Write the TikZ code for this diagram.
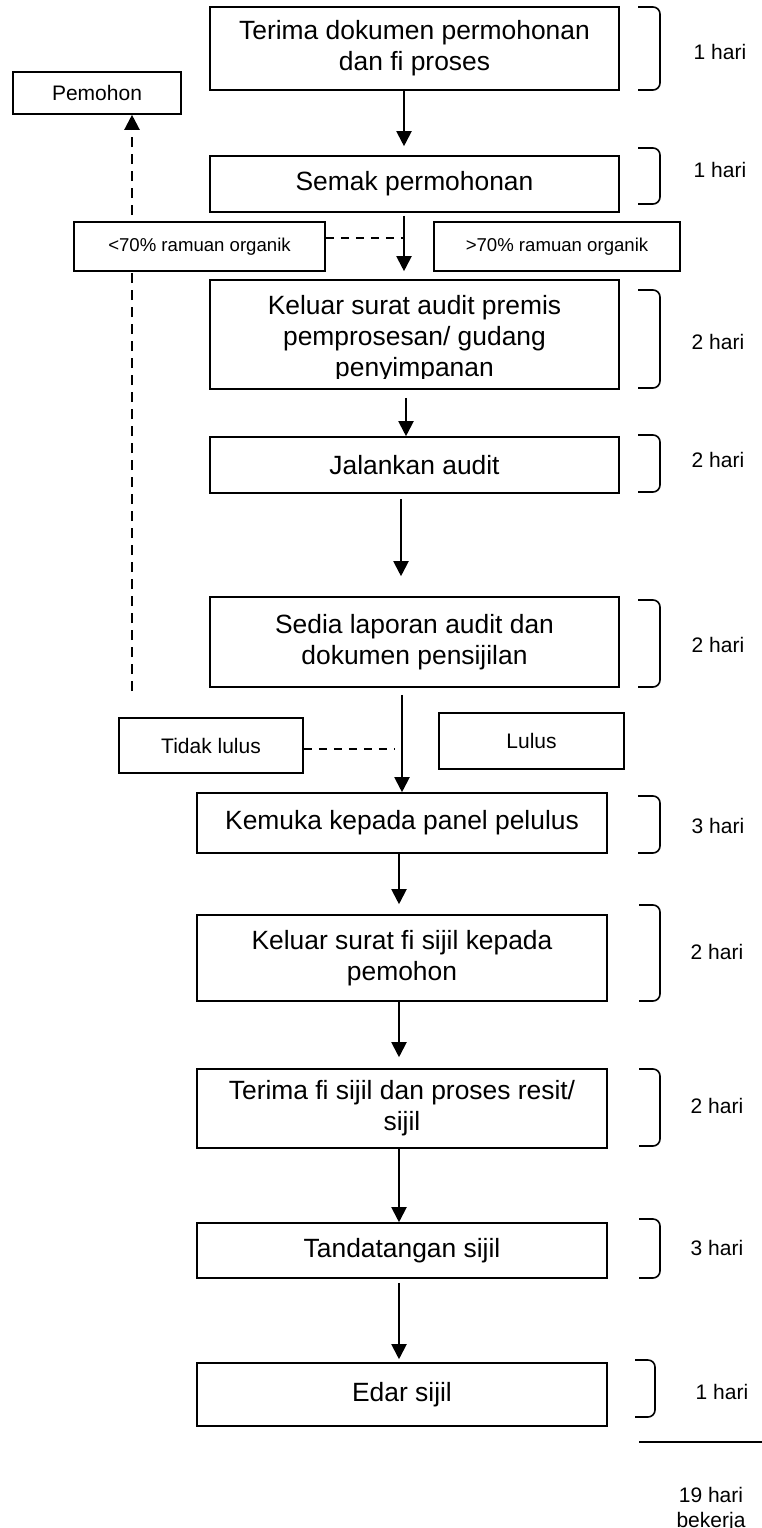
\documentclass[tikz,border=0pt]{standalone}
\usepackage{fontspec}
\setmainfont{Liberation Sans}
\usetikzlibrary{arrows.meta}

\begin{document}
\begin{tikzpicture}[
    x=1pt, y=-1pt,
    stepbox/.style={rectangle, draw=black, fill=white, line width=1.6pt, align=center, inner sep=0pt, minimum width=409pt, font=\fontsize{26.4}{31}\selectfont},
    sidebox/.style={rectangle, draw=black, fill=white, line width=1.6pt, align=center, inner sep=0pt, font=\fontsize{21}{25}\selectfont},
    pctbox/.style={sidebox, minimum height=49pt, font=\fontsize{18.6}{22}\selectfont},
    days/.style={inner sep=0pt, align=center, font=\fontsize{21}{25}\selectfont},
    bracket/.style={line width=1.6pt, rounded corners=7pt},
    arrow/.style={-{Triangle[width=15pt, length=15pt]}, line width=2pt},
    backdash/.style={line width=2.2pt, dash pattern=on 10pt off 7pt},
    faildash/.style={line width=1.5pt, dash pattern=on 8pt off 7pt}
]
    \useasboundingbox (0,0) rectangle (762,1528);

    % main steps
    \node [stepbox, minimum height=83pt] (t1) at (414.5,48.5) {Terima dokumen permohonan\\dan fi proses};
    \node [stepbox, minimum height=56pt] (t2) at (414.5,184) {Semak permohonan};
    \node [stepbox, minimum height=109pt, path picture={
        \clip ([yshift=11pt]path picture bounding box.south west) rectangle (path picture bounding box.north east);
        \node [align=center, inner sep=0pt, font=\fontsize{26.4}{31}\selectfont] (t3txt) at ([yshift=-4.5pt]path picture bounding box.center) {Keluar surat audit premis\\pemprosesan/ gudang\\penyimpanan};
    }] (t3) at (414.5,334.5) {};
    \node [stepbox, minimum height=56pt] (t4) at (414.5,465) {Jalankan audit};
    \node [stepbox, minimum height=90pt] (t5) at (414.5,642) {Sedia laporan audit dan\\dokumen pensijilan};
    \node [stepbox, minimum width=410pt, minimum height=60pt] (t6) at (402,823) {Kemuka kepada panel pelulus};
    \node [stepbox, minimum width=410pt, minimum height=86pt] (t7) at (402,958) {Keluar surat fi sijil kepada\\pemohon};
    \node [stepbox, minimum width=410pt, minimum height=79pt] (t8) at (402,1108.5) {Terima fi sijil dan proses resit/\\sijil};
    \node [stepbox, minimum width=410pt, minimum height=55pt] (t9) at (402,1250.5) {Tandatangan sijil};
    \node [stepbox, minimum width=410pt, minimum height=63pt] (t10) at (402,1394.5) {Edar sijil};

    % side boxes
    \node [sidebox, minimum width=168pt, minimum height=42pt] (pem) at (97,93) {Pemohon};
    \coordinate (ret) at (132,691);
    \draw [arrow, backdash] (ret) -- (ret |- pem.south);
    \node [pctbox, minimum width=251pt] (lt70) at (199.5,246.5) {<70\% ramuan organik};
    \node [pctbox, minimum width=246pt] (gt70) at (557,246.5) {>70\% ramuan organik};
    \node [sidebox, minimum width=184pt, minimum height=55pt] (tl) at (211,745.5) {Tidak lulus};
    \node [sidebox, minimum width=185pt, minimum height=56pt] (ls) at (531.5,741) {Lulus};

    % flow
    \coordinate (a2) at ([xshift=-10.5pt]t2.south);
    \draw [arrow, shorten >=9pt] ([xshift=-10.5pt]t1.south) -- ([xshift=-10.5pt]t2.north);
    \draw [arrow, shorten <=3pt, shorten >=8pt] (a2) -- (a2 |- t3.north);
    \draw [arrow, shorten <=8pt] ([xshift=-8.5pt]t3.south) -- ([xshift=-8.5pt]t4.north);
    \draw [arrow, shorten <=5pt, shorten >=20pt] ([xshift=-13.5pt]t4.south) -- ([xshift=-13.5pt]t5.north);
    \draw [arrow, shorten <=7pt] (t5.south -| t6.north) -- (t6.north);
    \draw [arrow, shorten >=10pt] ([xshift=-3pt]t6.south) -- ([xshift=-3pt]t7.north);
    \draw [arrow, shorten >=11pt] ([xshift=-3pt]t7.south) -- ([xshift=-3pt]t8.north);
    \draw [arrow] ([xshift=-3pt]t8.south) -- ([xshift=-3pt]t9.north);
    \draw [arrow, shorten <=4pt, shorten >=3pt] ([xshift=-3pt]t9.south) -- ([xshift=-3pt]t10.north);

    \coordinate (ltr) at ([yshift=8.5pt]lt70.east);
    \draw [faildash] (ltr) -- (ltr -| a2);
    \coordinate (tlr) at ([yshift=-3.5pt]tl.east);
    \draw [faildash, shorten >=8pt] (tlr) -- (tlr -| t6.north);

    % durations
    \draw [bracket] (638,7) -- (660,7) -- (660,90) -- (638,90);
    \draw [bracket] (638,148) -- (660,148) -- (660,204) -- (638,204);
    \draw [bracket] (638,290) -- (660,290) -- (660,388) -- (638,388);
    \draw [bracket] (638,435) -- (660,435) -- (660,492) -- (638,492);
    \draw [bracket] (638,600) -- (660,600) -- (660,687) -- (638,687);
    \draw [bracket] (638,796) -- (660,796) -- (660,853) -- (638,853);
    \draw [bracket] (639,905) -- (660,905) -- (660,1001) -- (639,1001);
    \draw [bracket] (639,1069) -- (660,1069) -- (660,1146) -- (639,1146);
    \draw [bracket] (639,1219) -- (660,1219) -- (660,1278) -- (639,1278);
    \draw [bracket] (635,1360) -- (655,1360) -- (655,1417) -- (635,1417);

    \node [days] (d1) at (720,52) {1 hari};
    \node [days] (d2) at (720,170) {1 hari};
    \node [days] (d3) at (718,342) {2 hari};
    \node [days] (d4) at (718,460) {2 hari};
    \node [days] (d5) at (718,645) {2 hari};
    \node [days] (d6) at (718,826) {3 hari};
    \node [days] (d7) at (717,952) {2 hari};
    \node [days] (d8) at (717,1106) {2 hari};
    \node [days] (d9) at (717,1248) {3 hari};
    \node [days] (d10) at (722,1392) {1 hari};

    \coordinate (sumL) at (639,1442);
    \coordinate (sumR) at (762,1442);
    \draw [line width=1.3pt] (sumL) -- (sumR);
    \node [days, anchor=north] (tot) at (711,1487) {19 hari\\bekerja};
\end{tikzpicture}
\end{document}
